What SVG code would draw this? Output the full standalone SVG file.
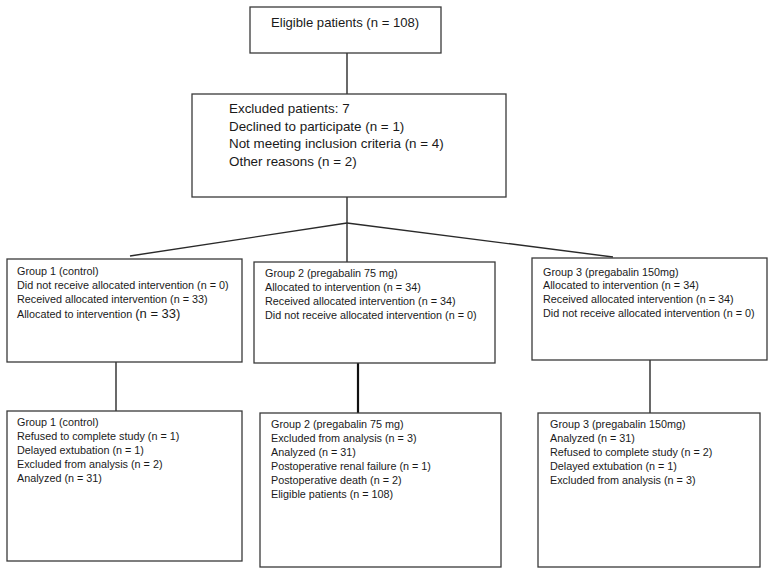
<svg xmlns="http://www.w3.org/2000/svg" width="771" height="573" viewBox="0 0 771 573">
  <style>
    .box { fill: #ffffff; stroke: #3a3a3a; stroke-width: 1.3; }
    .ln { fill: none; stroke: #2a2a2a; stroke-width: 1.4; }
    .thick { stroke-width: 2.2; stroke: #111; }
    text { font-family: "Liberation Sans", Arial, sans-serif; fill: #1a1a1a; }
    .t13 { font-size: 13.1px; }
    .tx { font-size: 13.4px; }
    .ts { font-size: 10.8px; }
    .tb { font-size: 13px; }
  </style>
  <rect width="771" height="573" fill="#ffffff"/>

  <!-- connectors -->
  <g id="connectors">
    <line class="ln" x1="347" y1="53" x2="347" y2="94"/>
    <line class="ln" x1="347" y1="197" x2="347" y2="223"/>
    <line class="ln" x1="347" y1="223" x2="130" y2="256"/>
    <line class="ln" x1="347" y1="223" x2="613" y2="257"/>
    <line class="ln" x1="347" y1="223" x2="347" y2="262"/>
    <line class="ln" x1="116" y1="362" x2="116" y2="411"/>
    <line class="ln thick" x1="358" y1="363" x2="358" y2="413"/>
    <line class="ln" x1="650" y1="360" x2="650" y2="413"/>
  </g>

  <g id="eligible">
    <rect class="box" x="250" y="7" width="191" height="46"/>
    <text class="t13" x="271" y="27">Eligible patients (n = 108)</text>
  </g>

  <g id="excluded">
    <rect class="box" x="192" y="94" width="314" height="103"/>
    <text class="tx" x="229" y="113">Excluded patients: 7</text>
    <text class="tx" x="229" y="131">Declined to participate (n = 1)</text>
    <text class="tx" x="229" y="148">Not meeting inclusion criteria (n = 4)</text>
    <text class="tx" x="229" y="166">Other reasons (n = 2)</text>
  </g>

  <g id="group1-allocation">
    <rect class="box" x="7" y="259" width="235" height="103"/>
    <text class="ts" x="17" y="275">Group 1 (control)</text>
    <text class="ts" x="17" y="289">Did not receive allocated intervention (n = 0)</text>
    <text class="ts" x="17" y="303">Received allocated intervention (n = 33)</text>
    <text class="ts" x="17" y="318">Allocated to intervention <tspan class="tb">(n = 33)</tspan></text>
  </g>

  <g id="group2-allocation">
    <rect class="box" x="254" y="262" width="241" height="101"/>
    <text class="ts" x="265" y="277">Group 2 (pregabalin 75 mg)</text>
    <text class="ts" x="265" y="291">Allocated to intervention (n = 34)</text>
    <text class="ts" x="265" y="305">Received allocated intervention (n = 34)</text>
    <text class="ts" x="265" y="319">Did not receive allocated intervention (n = 0)</text>
  </g>

  <g id="group3-allocation">
    <rect class="box" x="532" y="258" width="235" height="102"/>
    <text class="ts" x="543" y="276">Group 3 (pregabalin 150mg)</text>
    <text class="ts" x="543" y="289">Allocated to intervention (n = 34)</text>
    <text class="ts" x="543" y="303">Received allocated intervention (n = 34)</text>
    <text class="ts" x="543" y="317">Did not receive allocated intervention (n = 0)</text>
  </g>

  <g id="group1-analysis">
    <rect class="box" x="7" y="411" width="235" height="150"/>
    <text class="ts" x="17" y="426">Group 1 (control)</text>
    <text class="ts" x="17" y="440">Refused to complete study (n = 1)</text>
    <text class="ts" x="17" y="454">Delayed extubation (n = 1)</text>
    <text class="ts" x="17" y="468">Excluded from analysis (n = 2)</text>
    <text class="ts" x="17" y="482">Analyzed (n = 31)</text>
  </g>

  <g id="group2-analysis">
    <rect class="box" x="260" y="413" width="241" height="154"/>
    <text class="ts" x="271" y="428">Group 2 (pregabalin 75 mg)</text>
    <text class="ts" x="271" y="442">Excluded from analysis (n = 3)</text>
    <text class="ts" x="271" y="456">Analyzed (n = 31)</text>
    <text class="ts" x="271" y="470">Postoperative renal failure (n = 1)</text>
    <text class="ts" x="271" y="484">Postoperative death (n = 2)</text>
    <text class="ts" x="271" y="498">Eligible patients (n = 108)</text>
  </g>

  <g id="group3-analysis">
    <rect class="box" x="538" y="413" width="222" height="154"/>
    <text class="ts" x="550" y="428">Group 3 (pregabalin 150mg)</text>
    <text class="ts" x="550" y="442">Analyzed (n = 31)</text>
    <text class="ts" x="550" y="456">Refused to complete study (n = 2)</text>
    <text class="ts" x="550" y="470">Delayed extubation (n = 1)</text>
    <text class="ts" x="550" y="484">Excluded from analysis (n = 3)</text>
  </g>
</svg>
